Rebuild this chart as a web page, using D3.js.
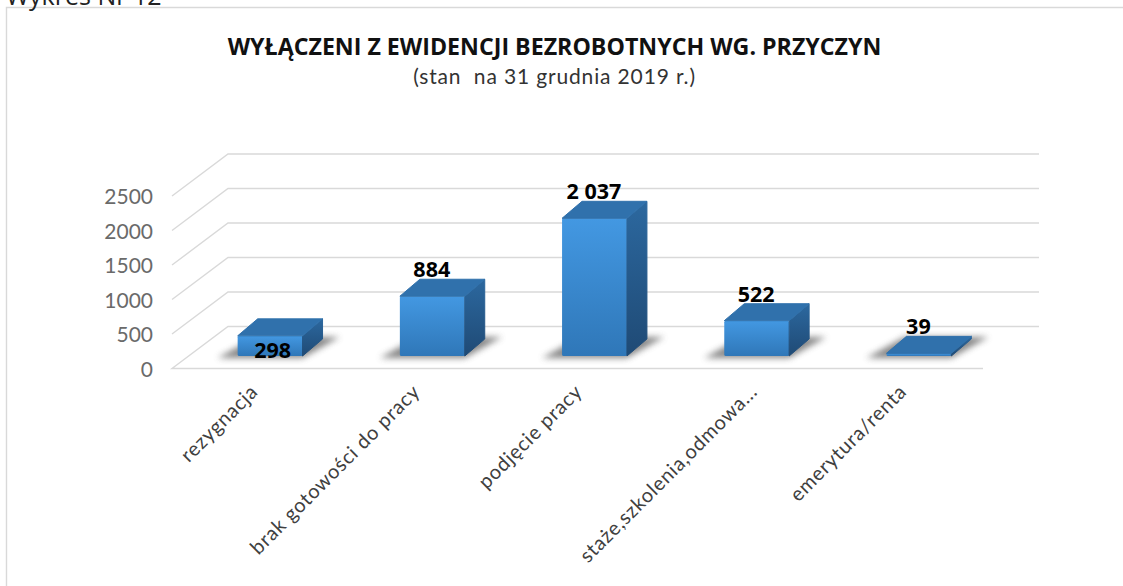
<!DOCTYPE html>
<html><head><meta charset="utf-8">
<script src="https://cdn.jsdelivr.net/npm/d3@7"></script>
<style>html,body{margin:0;padding:0;background:#fff;overflow:hidden}svg{display:block}</style>
</head><body><div id="c"></div>
<script>
const categories=["rezygnacja","brak gotowości do pracy","podjęcie pracy","staże,szkolenia,odmowa...","emerytura/renta"];
const values=[298,884,2037,522,39];
const valueLabels=["298","884","2 037","522","39"];
const ticks=[0,500,1000,1500,2000,2500];
const W=1123,H=586;
const svg=d3.select("#c").append("svg").attr("width",W).attr("height",H);
const defs=svg.append("defs");
const lg=defs.append("linearGradient").attr("id","front").attr("x1",0).attr("x2",0).attr("y1",0).attr("y2",1);
lg.append("stop").attr("offset",0).attr("stop-color","#4398e2");lg.append("stop").attr("offset",1).attr("stop-color","#2f77b8");
const sg=defs.append("linearGradient").attr("id","side").attr("x1",0).attr("x2",0).attr("y1",0).attr("y2",1);
sg.append("stop").attr("offset",0).attr("stop-color","#2c689f");sg.append("stop").attr("offset",1).attr("stop-color","#1f4a75");
defs.append("filter").attr("id","blur").attr("x","-20%").attr("y","-30%").attr("width","140%").attr("height","160%")
 .append("feGaussianBlur").attr("stdDeviation",3);

const fontAxis="'Lato',sans-serif", fontBold="'Open Sans',sans-serif";
svg.append("path").attr("d",`M6.5,586V7.5H1123`).attr("fill","none").attr("stroke","#d9d9d9").attr("stroke-width",1.4);
svg.append("text").attr("x",6).attr("y",5).attr("font-family","'Open Sans',sans-serif").attr("font-size",25).attr("fill","#222").text("Wykres Nr 12");
svg.append("text").attr("x",554.5).attr("y",55).attr("text-anchor","middle").attr("font-family",fontBold).attr("font-weight",700).attr("font-size",23.2).attr("fill","#111").text("WYŁĄCZENI Z EWIDENCJI BEZROBOTNYCH WG. PRZYCZYN");
svg.append("text").attr("x",554.5).attr("y",84).attr("text-anchor","middle").style("white-space","pre").attr("font-family",fontAxis).attr("font-size",21).attr("letter-spacing",0.85).attr("fill","#333").text("(stan  na 31 grudnia 2019 r.)");

const dx=56,dy=-42, x0=172, x1=983;
const y=d3.scaleLinear().domain([0,2500]).range([368.5,196]);
const g=svg.append("g");
ticks.forEach(t=>{
  const p=g.append("path").attr("fill","none").attr("stroke","#d9d9d9").attr("stroke-width",1.4);
  const Y=y(t);
  if(t===0) p.attr("d",`M${x1},${Y}H${x0}L${x0+dx},${Y+dy}H${x1+dx}`);
  else p.attr("d",`M${x0},${Y}L${x0+dx},${Y+dy}H${x1+dx}`);
});
g.append("g").attr("transform",`translate(${x0-19},1)`)
 .call(d3.axisLeft(y).tickValues(ticks).tickFormat(d3.format("d")).tickSize(0).tickPadding(0))
 .call(a=>a.select(".domain").remove())
 .selectAll("text").attr("font-family",fontAxis).attr("font-size",21).attr("fill","#6a6a6a");

const band=d3.scaleBand().domain(categories).range([189,1000]).paddingInner(0.6).paddingOuter(0.3);
const base=356, bdx=20, bdy=-17;
const yBar=d3.scaleLinear().domain([0,2500]).range([base,187]);
const bars=svg.selectAll("g.bar").data(categories.map((c,i)=>({c,v:values[i],l:valueLabels[i]}))).join("g").attr("class","bar");
const bw=band.bandwidth();
bars.append("path").attr("d",d=>{const X=band(d.c);return `M${X-20},${base+2}H${X+bw}L${X+bw+37},${base-19}H${X+18}Z`;})
 .attr("fill","#6b6b6b").attr("opacity",.8).attr("filter","url(#blur)");
bars.append("rect").attr("x",d=>band(d.c)).attr("width",bw).attr("y",d=>yBar(d.v)).attr("height",d=>base-yBar(d.v)).attr("rx",1.5).attr("fill","url(#front)");
bars.append("path").attr("d",d=>{const X=band(d.c)+bw,T=yBar(d.v);return `M${X},${base}V${T}l${bdx},${bdy}V${base+bdy}Z`;})
 .attr("fill","url(#side)").attr("stroke","url(#side)").attr("stroke-width",1).attr("stroke-linejoin","round");
bars.append("path").attr("d",d=>{const X=band(d.c),T=yBar(d.v);return `M${X},${T}H${X+bw}l${bdx},${bdy}H${X+bdx}Z`;})
 .attr("fill","#3071ac").attr("stroke","#3071ac").attr("stroke-width",1).attr("stroke-linejoin","round");
const inside=v=>v<400&&v>100;
bars.append("text").attr("x",d=>band(d.c)+bw/2+(inside(d.v)?2.5:-0.5)).attr("y",d=>inside(d.v)?base+2:yBar(d.v)+bdy-2)
 .attr("text-anchor","middle").attr("font-family",fontBold).attr("font-weight",700).attr("font-size",21.5).attr("fill","#000").text(d=>d.l);

svg.selectAll("text.cat").data(categories).join("text").attr("class","cat")
 .attr("transform",c=>`translate(${band(c)+bw/2+(c.endsWith("...")?2:-11)},393) rotate(-45)`).attr("text-anchor","end")
 .attr("font-family",fontAxis).attr("font-size",20).attr("letter-spacing",0.7).attr("fill","#404040").text(c=>c);
</script></body></html>
